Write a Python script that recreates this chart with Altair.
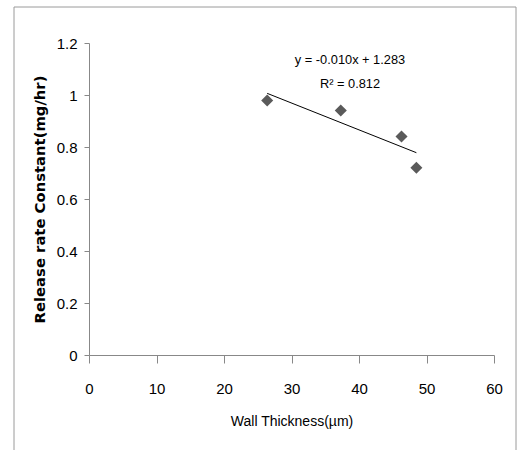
import altair as alt
import pandas as pd

wall_thickness = [26.4, 37.3, 46.3, 48.5]
release_rate = [0.979, 0.940, 0.840, 0.720]
x_ticks = [0, 10, 20, 30, 40, 50, 60]
y_ticks = [0, 0.2, 0.4, 0.6, 0.8, 1.0, 1.2]
eq_lines = ["y = -0.010x + 1.283", "R² = 0.812"]

df = pd.DataFrame({"x": wall_thickness, "y": release_rate})

NARROW = "Liberation Sans, Arial, sans-serif"

xs = alt.Scale(domain=[0, 60], nice=False, zero=True)
ys = alt.Scale(domain=[0, 1.2], nice=False)

xaxis = alt.Axis(values=x_ticks, grid=False, title="Wall Thickness(µm)",
                 domainColor="#888888", tickColor="#888888", tickSize=8,
                 labelFlush=False, labelOverlap=False,
                 labelFont=NARROW, labelFontSize=15, labelColor="#000000",
                 labelPadding=18, titleFont=NARROW, titleFontSize=14,
                 titleFontWeight="normal", titleColor="#000000", titlePadding=18)
yaxis = alt.Axis(values=y_ticks, grid=False, title="Release rate Constant(mg/hr)",
                 domainColor="#888888", tickColor="#888888", tickSize=5,
                 labelFlush=False, labelOverlap=False,
                 labelFont=NARROW, labelFontSize=15, labelColor="#000000",
                 labelPadding=7, titleFont="DejaVu Sans", titleFontSize=14.8,
                 titleFontWeight="bold", titleColor="#000000", titlePadding=9,
                 labelExpr="datum.value == 0 ? '0' : (datum.value == 1 ? '1' : format(datum.value, '.1f'))")

border = alt.Chart(pd.DataFrame({"a": [0]})).mark_rect(
    fill=None, stroke="#9a9a9a", strokeWidth=1, clip=False
).encode(x=alt.value(-75), x2=alt.value(427), y=alt.value(-36), y2=alt.value(430))

points = alt.Chart(df).mark_point(
    shape="diamond", filled=True, color="#5a5a5a", size=145, opacity=1
).encode(x=alt.X("x:Q", scale=xs, axis=xaxis), y=alt.Y("y:Q", scale=ys, axis=yaxis))

trend = alt.Chart(df).transform_regression("x", "y").mark_line(
    color="#000000", strokeWidth=1
).encode(x=alt.X("x:Q", scale=xs), y=alt.Y("y:Q", scale=ys))

eq1 = alt.Chart(pd.DataFrame({"t": [eq_lines[0]]})).mark_text(
    font=NARROW, fontSize=12.8, color="#000000", align="center", baseline="middle"
).encode(text="t:N", x=alt.value(261), y=alt.value(17))
eq2 = alt.Chart(pd.DataFrame({"t": [eq_lines[1]]})).mark_text(
    font=NARROW, fontSize=12.8, color="#000000", align="center", baseline="middle"
).encode(text="t:N", x=alt.value(261), y=alt.value(41))

chart = alt.layer(border, trend, points, eq1, eq2).properties(
    width=405, height=312,
    autosize=alt.AutoSizeParams(type="none"),
    padding={"left": 89, "top": 43, "right": 23, "bottom": 95},
    background="#ffffff"
).configure_view(stroke=None)

chart.save("out.html", embed_options={"renderer": "svg", "actions": False})
